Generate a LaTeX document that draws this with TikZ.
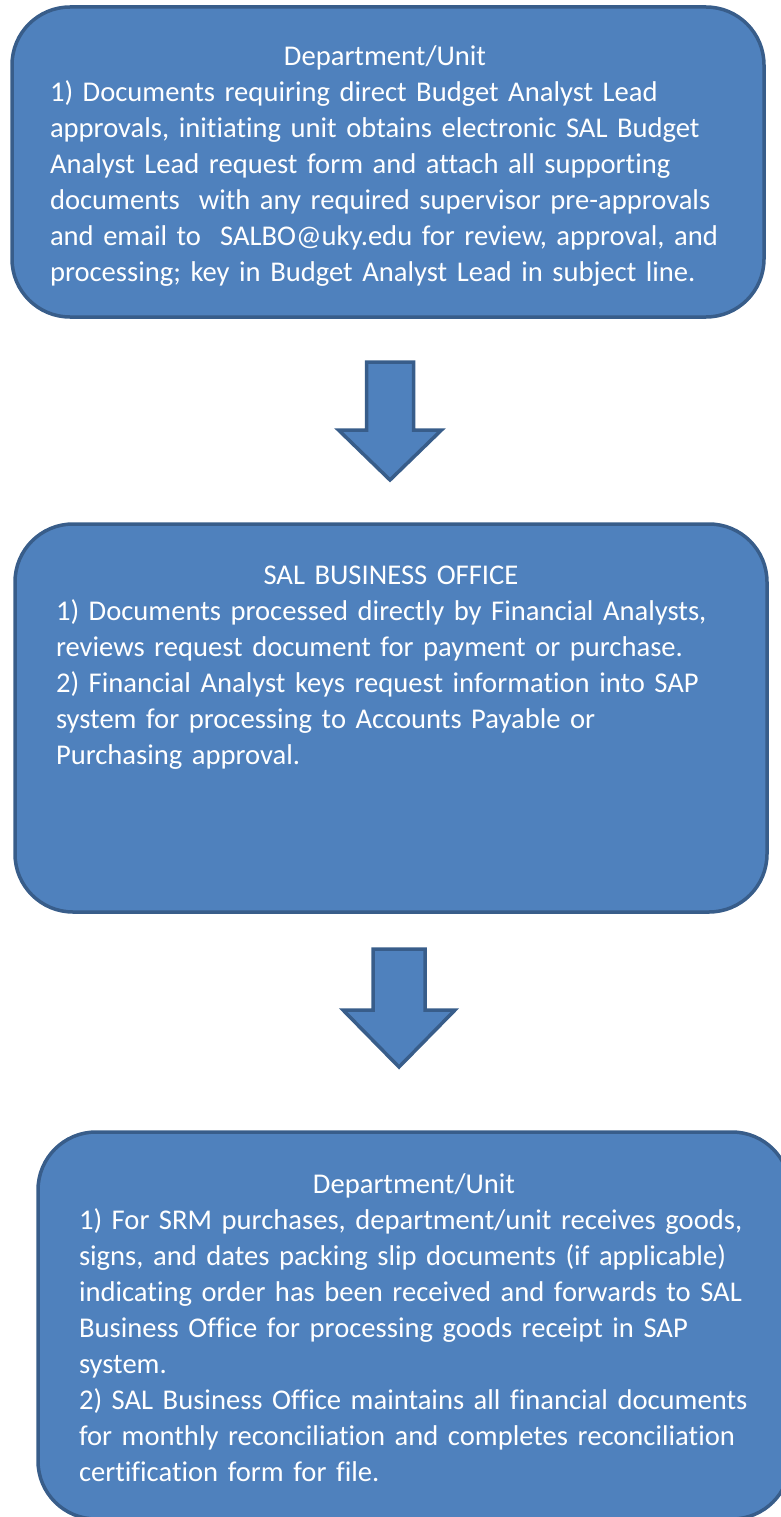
\documentclass[tikz,border=0pt]{standalone}
\usepackage{fontspec}
\setmainfont{Carlito}[Ligatures=NoCommon,Contextuals=NoAlternate]
\usetikzlibrary{positioning}
\definecolor{panelfill}{HTML}{4F81BD}
\definecolor{paneledge}{HTML}{385D8A}
\tikzset{
  panel/.style={draw=paneledge,fill=panelfill,line width=3.5pt,rounded corners=58pt,
    inner sep=0pt,minimum width=752pt},
  paneltext/.style={text=white,align=left,text width=670pt,inner sep=0pt,anchor=north,
    font=\fontsize{28.6}{36}\selectfont},
  blockarrow/.style={draw=paneledge,fill=panelfill,line width=3.5pt,line join=miter}
}
\newcommand\paneltitle[1]{\makebox[\linewidth]{#1}}
\begin{document}
\begin{tikzpicture}[x=1pt,y=-1pt]
\useasboundingbox (0,0) rectangle (780,1517);

\node[panel,minimum height=310pt] (unit) at (388,162) {};
\node[panel,minimum height=388pt] (office) at (391,718) {};
\node[panel,minimum height=387pt] (receipt) at (414,1325.5) {};

\node[paneltext] (unittext) at ([xshift=-3pt,yshift=-40pt]unit.north) {\paneltitle{Department/Unit}\\
1) Documents requiring direct Budget Analyst Lead\\
approvals, initiating unit obtains electronic SAL Budget\\
Analyst Lead request form and attach all supporting\\
documents~ with any required supervisor pre-approvals\\
and email to~ SALBO@uky.edu for review, approval, and\\
processing; key in Budget Analyst Lead in subject line.};

\node[paneltext] (officetext) at ([yshift=-43pt]office.north) {\paneltitle{SAL BUSINESS OFFICE}\\
1) Documents processed directly by Financial Analysts,\\
reviews request document for payment or purchase.\\
2) Financial Analyst keys request information into SAP\\
system for processing to Accounts Payable or\\
Purchasing approval.};

\node[paneltext] (receipttext) at ([yshift=-43pt]receipt.north) {\paneltitle{Department/Unit}\\
1) For SRM purchases, department/unit receives goods,\\
signs, and dates packing slip documents (if applicable)\\
indicating order has been received and forwards to SAL\\
Business Office for processing goods receipt in SAP\\
system.\\
2) SAL Business Office maintains all financial documents\\
for monthly reconciliation and completes reconciliation\\
certification form for file.};

% down arrows between the panels
\draw[blockarrow] (366.5,362) -- (413.5,362) -- (413.5,430) -- (441.5,430) -- (390,480)
  -- (338.5,430) -- (366.5,430) -- cycle;
\draw[blockarrow] (373,949) -- (425,949) -- (425,1010) -- (455,1010) -- (399,1067)
  -- (343,1010) -- (373,1010) -- cycle;

\end{tikzpicture}
\end{document}
